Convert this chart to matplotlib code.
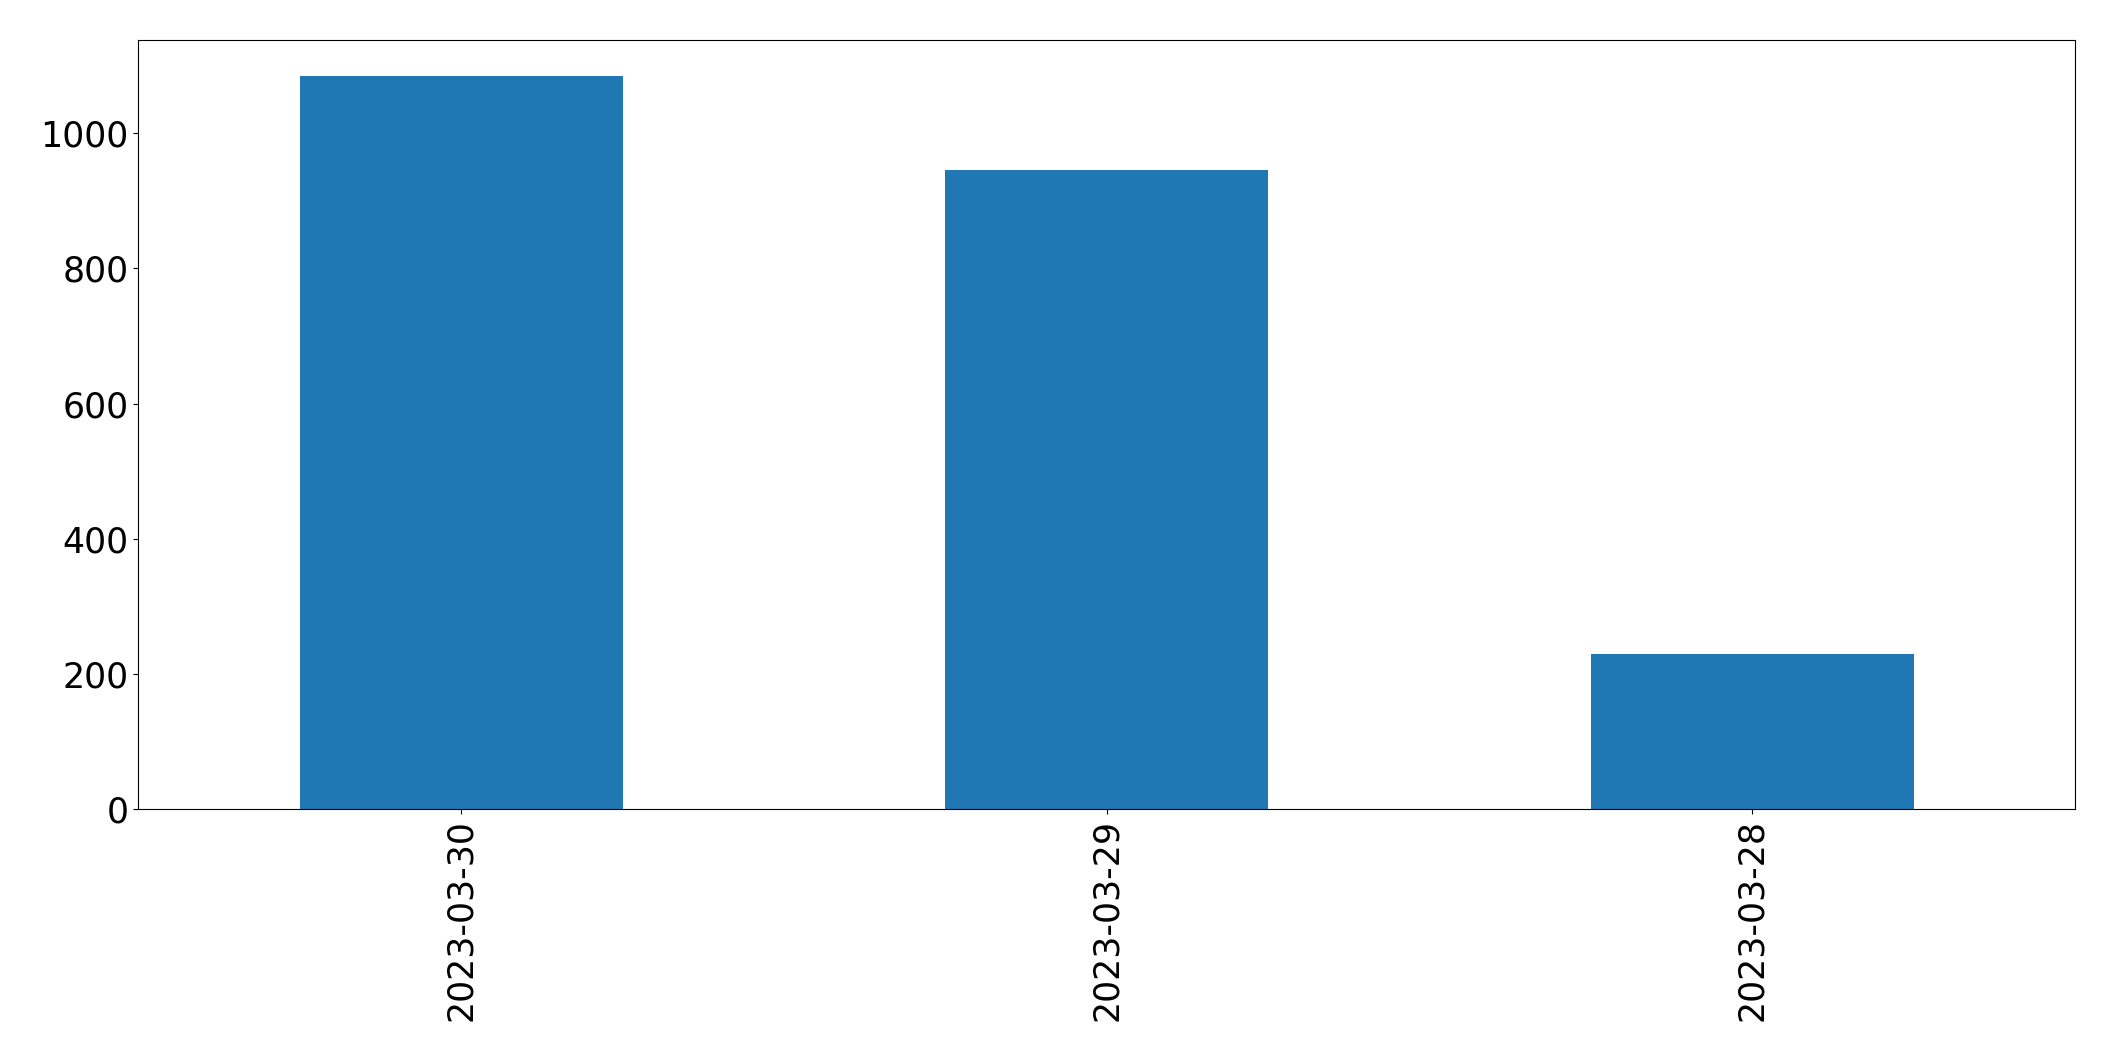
import matplotlib
matplotlib.use("Agg")
import matplotlib.pyplot as plt
import numpy as np

dates = ["2023-03-30", "2023-03-29", "2023-03-28"]
counts = [1084, 946, 230]

fig, ax = plt.subplots(figsize=(21.15, 10.61), dpi=100)
x = np.arange(len(dates))
ax.bar(x, counts, width=0.5, color="#1f77b4")
ax.set_xlim(-0.5, len(dates) - 0.5)
ax.set_ylim(0, max(counts) * 1.05)
ax.set_xticks(x)
ax.set_xticklabels(dates, rotation=90)
ax.tick_params(axis="both", labelsize=25)

plt.subplots_adjust(left=0.0654, right=0.9812, top=0.9626, bottom=0.2372)
plt.savefig("out.png", dpi=100)
